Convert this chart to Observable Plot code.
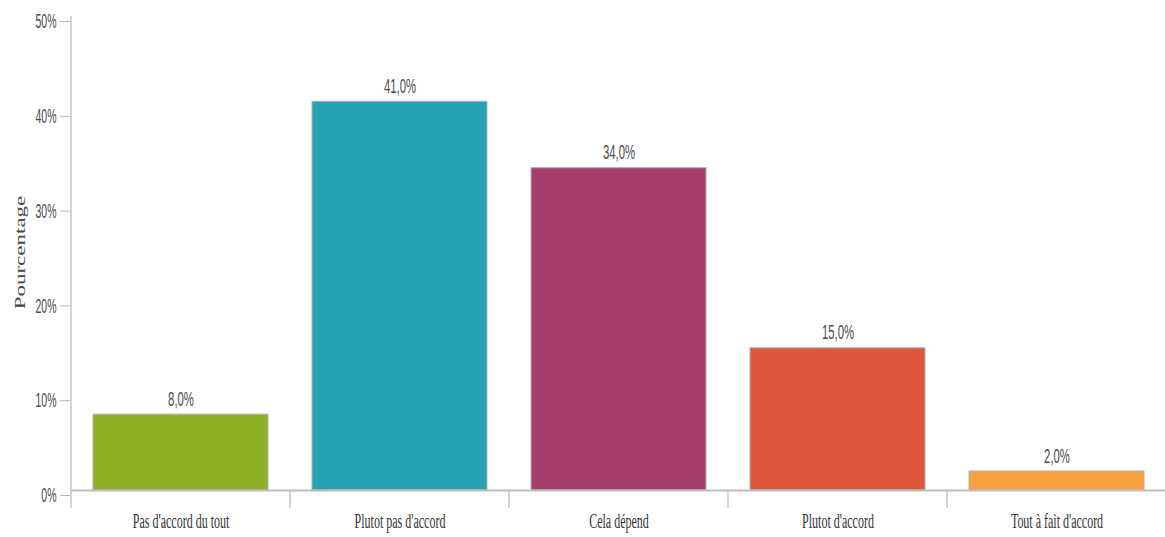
<!DOCTYPE html>
<html>
<head>
<meta charset="utf-8">
<script src="https://cdn.jsdelivr.net/npm/d3@7"></script>
<script src="https://cdn.jsdelivr.net/npm/@observablehq/plot@0.6"></script>
<style>
  html, body { margin: 0; padding: 0; background: #fff; }
  #chart svg { display: block; }
</style>
</head>
<body>
<div id="chart"></div>
<script>
const categories = ["Pas d'accord du tout", "Plutot pas d'accord", "Cela dépend", "Plutot d'accord", "Tout à fait d'accord"];
const values = [8, 41, 34, 15, 2];
const valueLabels = ["8,0%", "41,0%", "34,0%", "15,0%", "2,0%"];
const colors = ["#8FAF26", "#27A2B3", "#A63F6D", "#E0563D", "#F7A040"];
const yTicks = [0, 10, 20, 30, 40, 50];
const yTitle = "Pourcentage";

const data = categories.map((c, i) => ({cat: c, value: values[i], label: valueLabels[i], color: colors[i]}));

const sans = "'Liberation Sans', Arial, sans-serif";
const serif = "'Liberation Serif', 'Times New Roman', serif";

const plot = Plot.plot({
  width: 1165,
  height: 537,
  marginLeft: 70,
  marginRight: 0,
  marginTop: 14,
  marginBottom: 47,
  style: {background: "#fff", color: "#444"},
  x: {domain: categories, range: [70, 1167], paddingInner: 0.2, paddingOuter: 0.1, label: null},
  y: {domain: [0, 50], range: [490, 16], label: null},
  color: {type: "identity"},
  marks: [
    Plot.barY(data, {x: "cat", y: "value", fill: "color", stroke: "#b0b0b0", strokeWidth: 1}),
    Plot.ruleY([0], {stroke: "#bdbdbd", strokeWidth: 2}),
    Plot.text(data, {x: "cat", y: "value", text: "label", dy: -9, lineAnchor: "bottom", fontSize: 21, fill: "#4a4a4a", fontFamily: sans}),
    Plot.axisY({ticks: yTicks, tickFormat: d => d + "%", tickSize: 10, tickPadding: 4, stroke: "#b5b5b5", fontSize: 21, fill: "#4a4a4a", fontFamily: sans, label: null, dy: 5}),
    Plot.axisX({tickSize: 0, tickPadding: 23, fontSize: 20, fill: "#333", fontFamily: serif, label: null}),
    Plot.text([yTitle], {frameAnchor: "left", textAnchor: "middle", rotate: -90, dx: -50, fontSize: 23, fill: "#444", fontFamily: serif})
  ]
});

document.getElementById("chart").appendChild(plot);

const svg = d3.select(plot);

// horizontally condensed lettering, as in the reference: scale each text about its own anchor
function squeeze(node, s, vertical) {
  const b = node.getBBox();
  const t = node.getAttribute("transform") || "";
  if (vertical) {
    const cy = b.y + b.height / 2;
    node.setAttribute("transform", `${t} translate(0,${cy}) scale(1,${s}) translate(0,${-cy})`);
  } else {
    const anchor = getComputedStyle(node).textAnchor || node.getAttribute("text-anchor") || "start";
    const ax = anchor === "end" ? b.x + b.width : anchor === "middle" ? b.x + b.width / 2 : b.x;
    node.setAttribute("transform", `${t} translate(${ax},0) scale(${s},1) translate(${-ax},0)`);
  }
}
const valueSet = new Set(valueLabels);
const catSet = new Set(categories);
const tickSet = new Set(yTicks.map(d => d + "%"));
svg.selectAll("text").each(function () {
  const txt = this.textContent;
  if (valueSet.has(txt)) squeeze(this, 0.54, false);
  else if (tickSet.has(txt)) squeeze(this, 0.5, false);
  else if (catSet.has(txt)) squeeze(this, 0.6, false);
  else if (txt === yTitle) squeeze(this, 0.6, true);
});

// axis line and category separators drawn from Plot's own x/y scales
const sx = plot.scale("x");
const sy = plot.scale("y");
const step = sx.step;
const bw = sx.bandwidth;
const y0 = sy.apply(0);
const yTop = sy.apply(d3.max(yTicks));
const bounds = categories.map(c => sx.apply(c) - (step - bw) / 2);
const g = svg.append("g").attr("stroke", "#c4c4c4").attr("stroke-width", 1.5);
g.append("line").attr("x1", bounds[0]).attr("x2", bounds[0]).attr("y1", yTop).attr("y2", y0 + 18);
bounds.slice(1).forEach(b => {
  g.append("line").attr("x1", b).attr("x2", b).attr("y1", y0).attr("y2", y0 + 18);
});
</script>
</body>
</html>
